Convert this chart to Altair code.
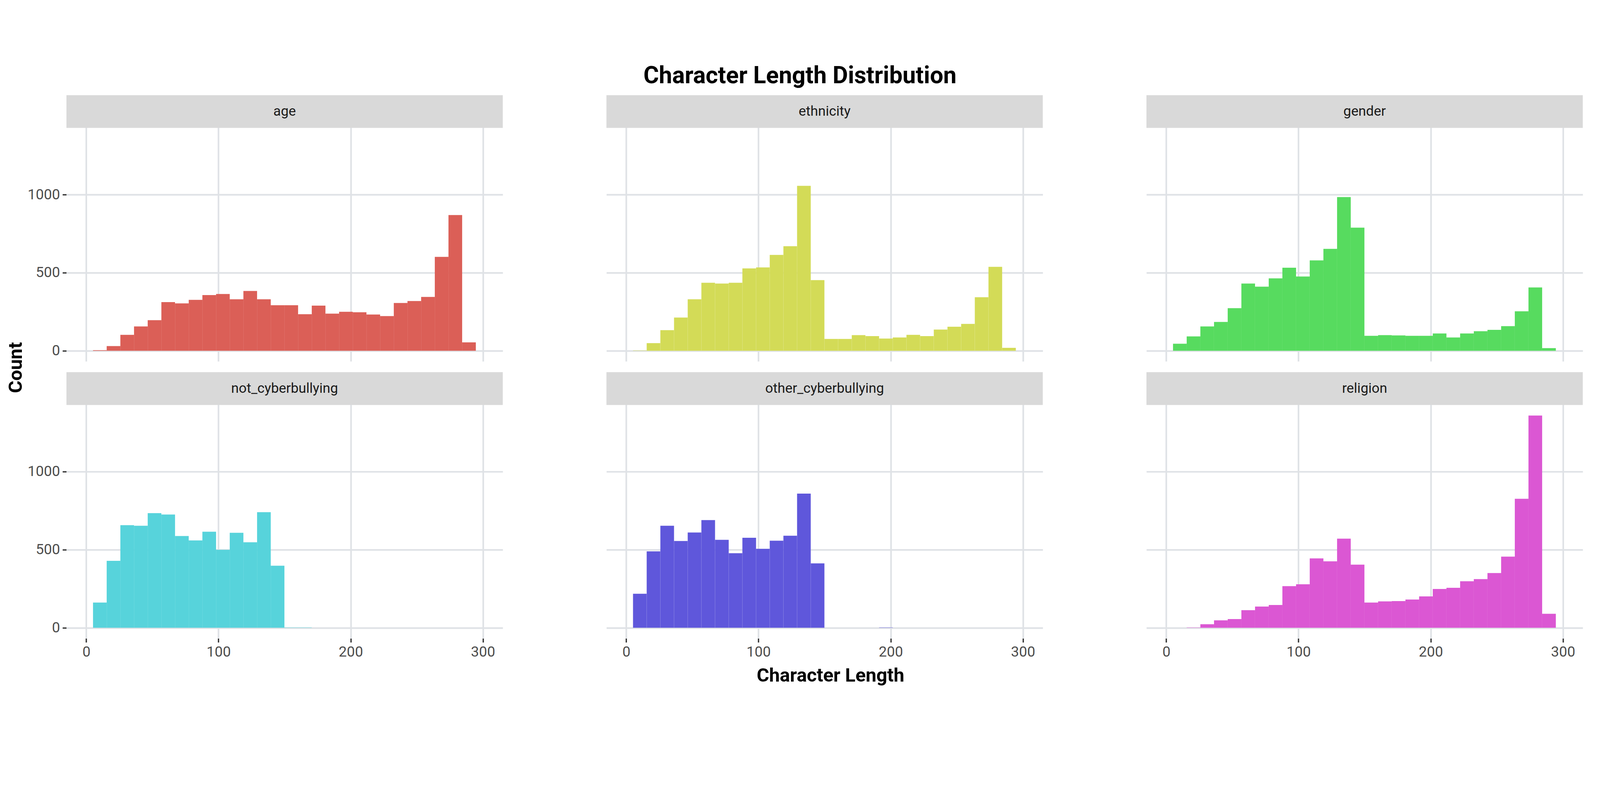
import pandas as pd
import altair as alt

# 28 histogram bins, ~10.34 characters wide, starting at ~5
BIN_START = 5.1
BIN_WIDTH = 10.34

categories = ["age", "ethnicity", "gender", "not_cyberbullying", "other_cyberbullying", "religion"]
colors = ["#db5f57", "#d3db57", "#57db5f", "#57d3db", "#5f57db", "#db57d3"]

age = [4, 30, 102, 156, 196, 312, 304, 326, 357, 364, 330, 383, 330, 292,
       292, 234, 289, 238, 250, 247, 232, 222, 306, 319, 345, 602, 870, 54]
ethnicity = [2, 49, 132, 213, 330, 436, 431, 436, 528, 534, 614, 670, 1057, 453,
             76, 76, 100, 94, 78, 85, 102, 94, 136, 154, 172, 343, 538, 19]
gender = [45, 92, 156, 185, 273, 431, 411, 464, 532, 476, 579, 653, 985, 789,
          96, 100, 98, 96, 96, 111, 85, 111, 125, 134, 158, 253, 406, 17]
not_cyberbullying = [162, 429, 658, 654, 735, 726, 588, 560, 616, 500, 609, 548, 741, 398,
                     2, 2, 0, 0, 0, 0, 0, 0, 0, 0, 0, 0, 0, 0]
other_cyberbullying = [218, 490, 654, 556, 611, 690, 564, 478, 577, 506, 558, 590, 860, 413,
                       0, 0, 0, 0, 2, 0, 0, 0, 0, 0, 0, 0, 0, 0]
religion = [0, 2, 23, 48, 56, 113, 136, 146, 267, 279, 445, 426, 571, 405,
            162, 169, 171, 181, 201, 249, 256, 298, 312, 351, 456, 827, 1360, 90]

series = [age, ethnicity, gender, not_cyberbullying, other_cyberbullying, religion]

rows = []
for cat, counts in zip(categories, series):
    for i, c in enumerate(counts):
        start = BIN_START + i * BIN_WIDTH
        rows.append({"category": cat, "start": start, "end": start + BIN_WIDTH, "count": c})
df = pd.DataFrame(rows)

FONT = "Roboto"
X_DOM = [-15, 315]
Y_TOP = 1428   # top of plotting region
Y_STRIP = 1638  # top of the grey strip drawn inside each panel

bars = alt.Chart().mark_bar(stroke=None).encode(
    x=alt.X("start:Q", title=None,
            scale=alt.Scale(domain=X_DOM, nice=False, zero=False),
            axis=alt.Axis(values=[0, 100, 200, 300], grid=True)),
    x2="end:Q",
    y=alt.Y("count:Q", title=None,
            scale=alt.Scale(domain=[-68, Y_STRIP], nice=False, zero=False),
            axis=alt.Axis(values=[0, 500, 1000], grid=True, format="d")),
    y2=alt.datum(0),
    color=alt.Color("category:N", scale=alt.Scale(domain=categories, range=colors), legend=None),
)

strip = alt.Chart().transform_aggregate(n="count()", groupby=["category"]).mark_rect(
    color="#d9d9d9"
).encode(
    x=alt.datum(X_DOM[0]), x2=alt.datum(X_DOM[1]),
    y=alt.datum(Y_TOP), y2=alt.datum(Y_STRIP),
)

strip_text = alt.Chart().transform_aggregate(n="count()", groupby=["category"]).mark_text(
    font=FONT, fontSize=42, color="#1a1a1a", baseline="middle"
).encode(
    x=alt.datum(150), y=alt.datum((Y_TOP + Y_STRIP) / 2), text="category:N",
)

panels = alt.layer(bars, strip, strip_text, data=df).properties(
    width=1330, height=811
).facet(
    facet=alt.Facet("category:N", sort=categories, title="",
                    header=alt.Header(labels=False, labelExpr="''", labelFontSize=1, labelPadding=0)),
    columns=3,
    spacing={"column": 316, "row": 32},
)

xtitle = alt.Chart(pd.DataFrame({"t": ["Character Length"]})).mark_text(
    font=FONT, fontSize=58, fontWeight="bold", color="black"
).encode(text="t:N", x=alt.value(2329), y=alt.value(40)).properties(width=4660, height=70)

ytitle = alt.Chart(pd.DataFrame({"t": ["Count"]})).mark_text(
    font=FONT, fontSize=58, fontWeight="bold", color="black", angle=270
).encode(text="t:N", x=alt.value(35), y=alt.value(830)).properties(width=60, height=1660)

chart = alt.hconcat(
    ytitle, alt.vconcat(panels, xtitle, spacing=10), spacing=5
).properties(
    background="white",
    title=alt.Title("Character Length Distribution", font=FONT, fontSize=72,
                    fontWeight="bold", color="black", anchor="middle", offset=20),
).configure_view(stroke=None).configure_axis(
    gridColor="#dfe2e6", gridWidth=5, domain=False, tickColor="#333333", tickSize=12,
    tickWidth=4, labelFont=FONT, labelFontSize=44, labelColor="#4d4d4d", labelPadding=8
).configure_concat(spacing=5)

chart.save("out.html", embed_options={"renderer": "svg", "actions": False})
